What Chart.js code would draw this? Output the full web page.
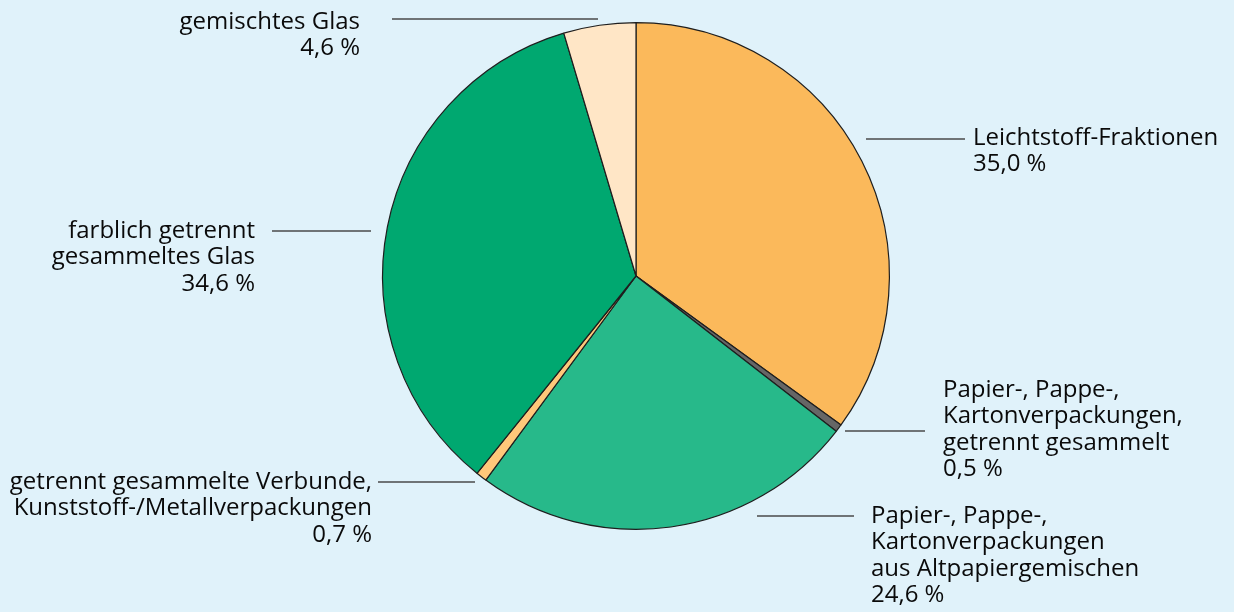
<!DOCTYPE html>
<html>
<head>
<meta charset="utf-8">
<script src="https://cdn.jsdelivr.net/npm/chart.js@4.4.0/dist/chart.umd.min.js"></script>
<style>
  html, body { margin: 0; padding: 0; background: #e0f2fa; }
  #wrap { width: 1234px; height: 612px; position: relative; }
</style>
</head>
<body>
<div id="wrap"><canvas id="myChart" width="1234" height="612"></canvas></div>
<script>

// data, clockwise from 12 o'clock
var categories = [
  "Leichtstoff-Fraktionen",
  "Papier-, Pappe-, Kartonverpackungen, getrennt gesammelt",
  "Papier-, Pappe-, Kartonverpackungen aus Altpapiergemischen",
  "getrennt gesammelte Verbunde, Kunststoff-/Metallverpackungen",
  "farblich getrennt gesammeltes Glas",
  "gemischtes Glas"
];
var shares = [35.0, 0.5, 24.6, 0.7, 34.6, 4.6];
var labelLines = [
  ["Leichtstoff-Fraktionen"],
  ["Papier-, Pappe-,", "Kartonverpackungen,", "getrennt gesammelt"],
  ["Papier-, Pappe-,", "Kartonverpackungen", "aus Altpapiergemischen"],
  ["getrennt gesammelte Verbunde,", "Kunststoff-/Metallverpackungen"],
  ["farblich getrennt", "gesammeltes Glas"],
  ["gemischtes Glas"]
];
var sliceColors = ["#fbb95b", "#666666", "#27b98a", "#ffc87a", "#00a870", "#ffe6c6"];

// label placement, relative to the pie centre (dx of line start/end, dy of line, text x, first text row)
var labelPos = [
  { x1: 230, x2: 329, ly: -137, tx: 337, ty: -138, align: "left" },
  { x1: 209, x2: 289, ly: 155, tx: 307, ty: 114, align: "left" },
  { x1: 121, x2: 218, ly: 240, tx: 235, ty: 240, align: "left" },
  { x1: -161, x2: -258, ly: 206, tx: -264, ty: 206, align: "right" },
  { x1: -265, x2: -364, ly: -45, tx: -381, ty: -45, align: "right" },
  { x1: -38, x2: -244, ly: -257, tx: -276, ty: -254, align: "right" }
];
var lineStep = 26.5;

function fmt(v) {
  return v.toFixed(1).replace(".", ",") + " %";
}

var labelPlugin = {
  id: "leaderLabels",
  afterDraw: function (chart) {
    var ctx = chart.ctx;
    var arc = chart.getDatasetMeta(0).data[0];
    var cx = arc.x, cy = arc.y;
    ctx.save();
    ctx.font = "24px 'Open Sans'";
    ctx.textBaseline = "middle";
    for (var i = 0; i < shares.length; i++) {
      var p = labelPos[i];
      ctx.strokeStyle = "#4a4a4a";
      ctx.lineWidth = 1.3;
      ctx.beginPath();
      ctx.moveTo(cx + p.x1, cy + p.ly);
      ctx.lineTo(cx + p.x2, cy + p.ly);
      ctx.stroke();

      ctx.fillStyle = "#0a0a0a";
      ctx.textAlign = p.align;
      var rows = labelLines[i].concat([fmt(shares[i])]);
      for (var j = 0; j < rows.length; j++) {
        ctx.fillText(rows[j], cx + p.tx, cy + p.ty + j * lineStep);
      }
    }
    ctx.restore();
  }
};

var ctx = document.getElementById("myChart").getContext("2d");
var chart = new Chart(ctx, {
  type: "pie",
  data: {
    labels: categories,
    datasets: [{
      data: shares,
      backgroundColor: sliceColors,
      borderColor: "#1e1e1e",
      borderWidth: 1.2
    }]
  },
  options: {
    responsive: false,
    animation: false,
    layout: { padding: { top: 22, bottom: 82, left: 38, right: 0 } },
    plugins: {
      legend: { display: false },
      tooltip: { enabled: false }
    }
  },
  plugins: [labelPlugin]
});

</script>
</body>
</html>
